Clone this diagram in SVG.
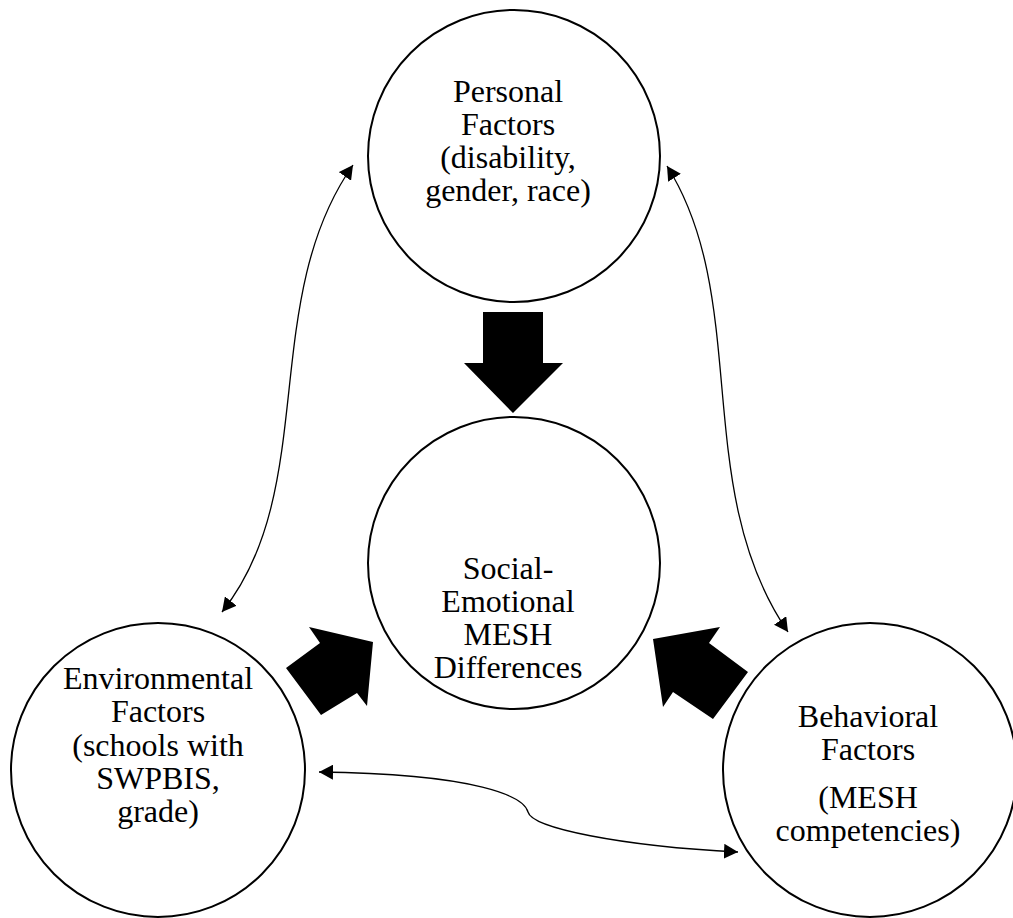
<svg xmlns="http://www.w3.org/2000/svg" width="1013" height="918" viewBox="0 0 1013 918">
<style>
.node circle{fill:#fff;stroke:#000;stroke-width:2}
.node text{font-family:"Liberation Serif","Times New Roman",serif;font-size:32px;fill:#000;text-anchor:middle}
.conn{fill:none;stroke:#000;stroke-width:1.3}
.block{fill:#000;stroke:none}
</style>
<defs>
<marker id="ah" viewBox="0 0 14 15" refX="14" refY="7.5" markerWidth="14" markerHeight="15" markerUnits="userSpaceOnUse" orient="auto-start-reverse">
<path d="M0,0 L14,7.5 L0,15 z" fill="#000"/>
</marker>
</defs>
<rect width="1013" height="918" fill="#fff"/>
<g id="personal" class="node">
<circle cx="514" cy="156" r="146"/>
<text x="508" y="102">Personal</text>
<text x="508" y="135">Factors</text>
<text x="508" y="168">(disability,</text>
<text x="508" y="201">gender, race)</text>
</g>
<g id="social" class="node">
<circle cx="514" cy="563" r="146"/>
<text x="508" y="579">Social-</text>
<text x="508" y="612">Emotional</text>
<text x="508" y="645">MESH</text>
<text x="508" y="678">Differences</text>
</g>
<g id="environmental" class="node">
<circle cx="158" cy="770" r="147"/>
<text x="158" y="689">Environmental</text>
<text x="158" y="722">Factors</text>
<text x="158" y="756">(schools with</text>
<text x="158" y="789">SWPBIS,</text>
<text x="158" y="822">grade)</text>
</g>
<g id="behavioral" class="node">
<circle cx="870" cy="770" r="147"/>
<text x="868" y="727">Behavioral</text>
<text x="868" y="760">Factors</text>
<text x="868" y="808">(MESH</text>
<text x="868" y="841">competencies)</text>
</g>
<g id="connectors">
<polygon class="block" points="483,312 543,312 543,363 563,363 513,413 464,363 483,363"/>
<polygon class="block" points="373,642 309,627 320,643 286,668 321,715 357,693 367,706"/>
<polygon class="block" points="653,639 720,627 709,643 748,672 713,719 673,692 663,707"/>
<path class="conn" d="M222,612 C320,490 258,300 353,165" marker-start="url(#ah)" marker-end="url(#ah)"/>
<path class="conn" d="M667,166 C752,300 690,490 788,632" marker-start="url(#ah)" marker-end="url(#ah)"/>
<path class="conn" d="M319,772 C480,774 524,797 528,812 C532,828 620,846 738,852" marker-start="url(#ah)" marker-end="url(#ah)"/>
</g>
</svg>
